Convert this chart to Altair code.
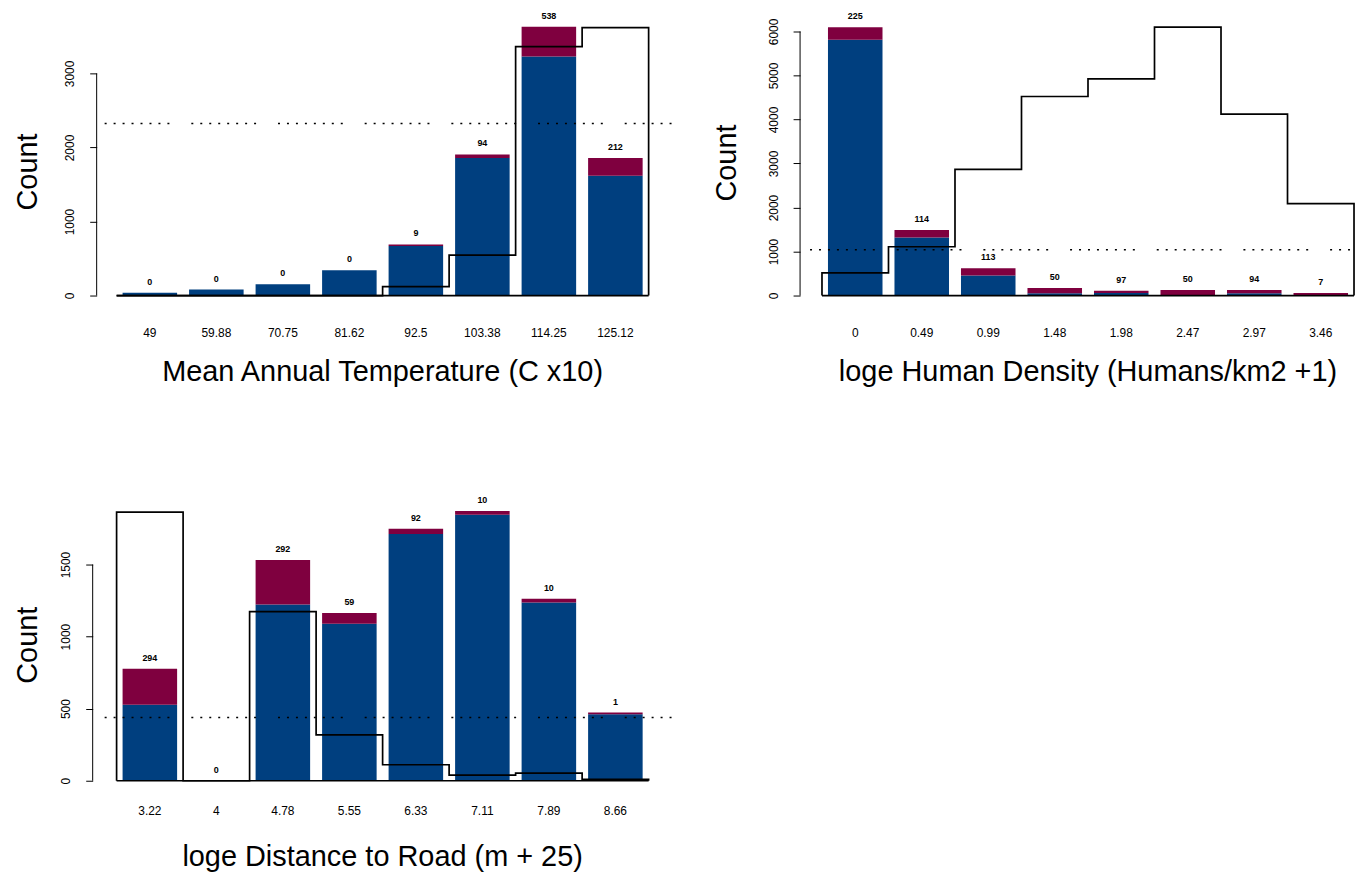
import altair as alt
import pandas as pd

BLUE = "#003f7f"
RED = "#7f003f"
FONT = "Liberation Sans"
W = 534
H = 285
DASH = [2, 7] * 7 + [2, 22]

# ---- Panel 1: Mean Annual Temperature ----
temp_labels = ["49", "59.88", "70.75", "81.62", "92.5", "103.38", "114.25", "125.12"]
temp_blue = [36, 81, 152, 341, 668, 1857, 3229, 1619]
temp_total = [36, 81, 152, 341, 691, 1906, 3632, 1857]
temp_counts = ["0", "0", "0", "0", "9", "94", "538", "212"]
temp_outline = [0, 0, 0, 0, 121, 547, 3363, 3619]
temp_ref = 2323
temp_ticks = [0, 1000, 2000, 3000]

# ---- Panel 2: Human Density ----
dens_labels = ["0", "0.49", "0.99", "1.48", "1.98", "2.47", "2.97", "3.46"]
dens_blue = [5811, 1321, 453, 53, 60, 15, 53, 15]
dens_total = [6098, 1487, 619, 174, 106, 128, 128, 60]
dens_counts = ["225", "114", "113", "50", "97", "50", "94", "7"]
dens_outline = [513, 1109, 2868, 4523, 4924, 6098, 4121, 2090]
dens_ref = 1042
dens_ticks = [0, 1000, 2000, 3000, 4000, 5000, 6000]

# ---- Panel 3: Distance to Road ----
road_labels = ["3.22", "4", "4.78", "5.55", "6.33", "7.11", "7.89", "8.66"]
road_blue = [528, 0, 1223, 1090, 1712, 1845, 1237, 461]
road_total = [777, 0, 1532, 1164, 1748, 1871, 1263, 473]
road_counts = ["294", "0", "292", "59", "92", "10", "10", "1"]
road_outline = [1864, 0, 1173, 318, 111, 39, 53, 10]
road_ref = 438
road_ticks = [0, 500, 1000, 1500]


def panel(labels, blue, total, counts, outline, ref, ticks, ymax, xtitle,
          axis_off, count_x, count_y, lab_off, title_off, ref_x1, ref_x2,
          marker=False):
    n = len(labels)
    idx = list(range(n))
    bars = pd.DataFrame({"i": idx, "lab": labels, "blue": blue,
                         "total": total, "cnt": counts})
    bars["x0"] = bars["i"] + 0.09
    bars["x1"] = bars["i"] + 0.91
    bars["xc"] = bars["i"] + 0.5

    xs = alt.Scale(domain=[0, n], nice=False, zero=False)
    ys = alt.Scale(domain=[0, ymax], nice=False)
    yax = alt.Axis(values=ticks, title=None, grid=False, domain=False,
                   format="d",
                   tickSize=7, tickColor="black", tickWidth=1,
                   labelAngle=270, labelAlign="center", labelBaseline="bottom",
                   labelPadding=13, labelFontSize=12, labelColor="black",
                   labelFont=FONT, offset=axis_off)

    base = alt.Chart(bars)
    blue_l = base.mark_bar(color=BLUE).encode(
        x=alt.X("x0:Q", scale=xs, axis=None), x2="x1:Q",
        y=alt.Y("blue:Q", scale=ys, axis=yax), y2=alt.datum(0))
    red_l = base.mark_bar(color=RED).encode(
        x=alt.X("x0:Q", scale=xs, axis=None), x2="x1:Q",
        y=alt.Y("total:Q", scale=ys, axis=yax), y2="blue:Q")
    cnt_l = base.mark_text(baseline="bottom", dy=-6, fontSize=9,
                           fontWeight="bold", font=FONT, color="black").encode(
        x=alt.X("xc:Q", scale=xs, axis=None),
        y=alt.Y("total:Q", scale=ys, axis=yax), text="cnt:N")
    lab_l = base.mark_text(baseline="middle", fontSize=12, font=FONT,
                           color="black").encode(
        x=alt.X("xc:Q", scale=xs, axis=None),
        y=alt.value(H + lab_off), text="lab:N")

    ex = [0] + idx + [n, n]
    ev = [0] + list(outline) + [outline[-1], 0]
    ol = pd.DataFrame({"k": list(range(len(ex))), "ex": ex, "ev": ev})
    line_l = alt.Chart(ol).mark_line(interpolate="step-after", color="black",
                                     strokeWidth=1.7).encode(
        x=alt.X("ex:Q", scale=xs, axis=None),
        y=alt.Y("ev:Q", scale=ys, axis=yax), order="k:Q")

    bl = pd.DataFrame({"a": [0], "b": [n], "z": [0]})
    base_l = alt.Chart(bl).mark_rule(color="black", strokeWidth=1.7).encode(
        x=alt.X("a:Q", scale=xs, axis=None), x2="b:Q",
        y=alt.Y("z:Q", scale=ys, axis=yax))

    ad = pd.DataFrame({"t0": [ticks[0]], "t1": [ticks[-1]]})
    axis_l = alt.Chart(ad).mark_rule(color="black", strokeWidth=1).encode(
        x=alt.value(-axis_off),
        y=alt.Y("t0:Q", scale=ys, axis=yax), y2="t1:Q")

    rd = pd.DataFrame({"r": [ref]})
    ref_l = alt.Chart(rd).mark_rule(color="black", strokeWidth=1.5,
                                    strokeDash=DASH).encode(
        y=alt.Y("r:Q", scale=ys, axis=yax),
        x=alt.value(ref_x1), x2=alt.value(ref_x2))

    td = pd.DataFrame({"t": [xtitle]})
    title_l = alt.Chart(td).mark_text(fontSize=29, font=FONT, color="black",
                                      baseline="middle").encode(
        text="t:N", x=alt.value(W / 2), y=alt.value(H + title_off))

    cd = pd.DataFrame({"t": ["Count"]})
    count_l = alt.Chart(cd).mark_text(fontSize=29, font=FONT, color="black",
                                      angle=270, baseline="middle").encode(
        text="t:N", x=alt.value(count_x), y=alt.value(count_y))

    layers = [blue_l, red_l, line_l, base_l, ref_l, axis_l, cnt_l, lab_l,
              title_l, count_l]
    if marker:
        md = pd.DataFrame({"m": [0]})
        mk = alt.Chart(md).mark_rule(opacity=0, strokeWidth=1).encode(
            x=alt.value(-109), x2=alt.value(-109),
            y=alt.value(-2), y2=alt.value(-2))
        layers.append(mk)
    return alt.layer(*layers).properties(width=W, height=H)


p1 = panel(temp_labels, temp_blue, temp_total, temp_counts, temp_outline,
           temp_ref, temp_ticks, 3836, "Mean Annual Temperature (C x10)",
           20, -89, 161, 38, 77, -12, W + 24, marker=True)
p2 = panel(dens_labels, dens_blue, dens_total, dens_counts, dens_outline,
           dens_ref, dens_ticks, 6452, "loge Human Density (Humans/km2 +1)",
           22, -95, 152, 38, 77, -12, W + 3)
p3 = panel(road_labels, road_blue, road_total, road_counts, road_outline,
           road_ref, road_ticks, 1970, "loge Distance to Road (m + 25)",
           24, -89, 149, 30, 77, -12, W + 24)

chart = alt.concat(p1, p2, p3, columns=2, bounds="flush",
                   spacing={"row": 202, "column": 174}).properties(
    padding=0
).configure_view(stroke=None)

chart.save("out.html", embed_options={"renderer": "svg", "actions": False})
